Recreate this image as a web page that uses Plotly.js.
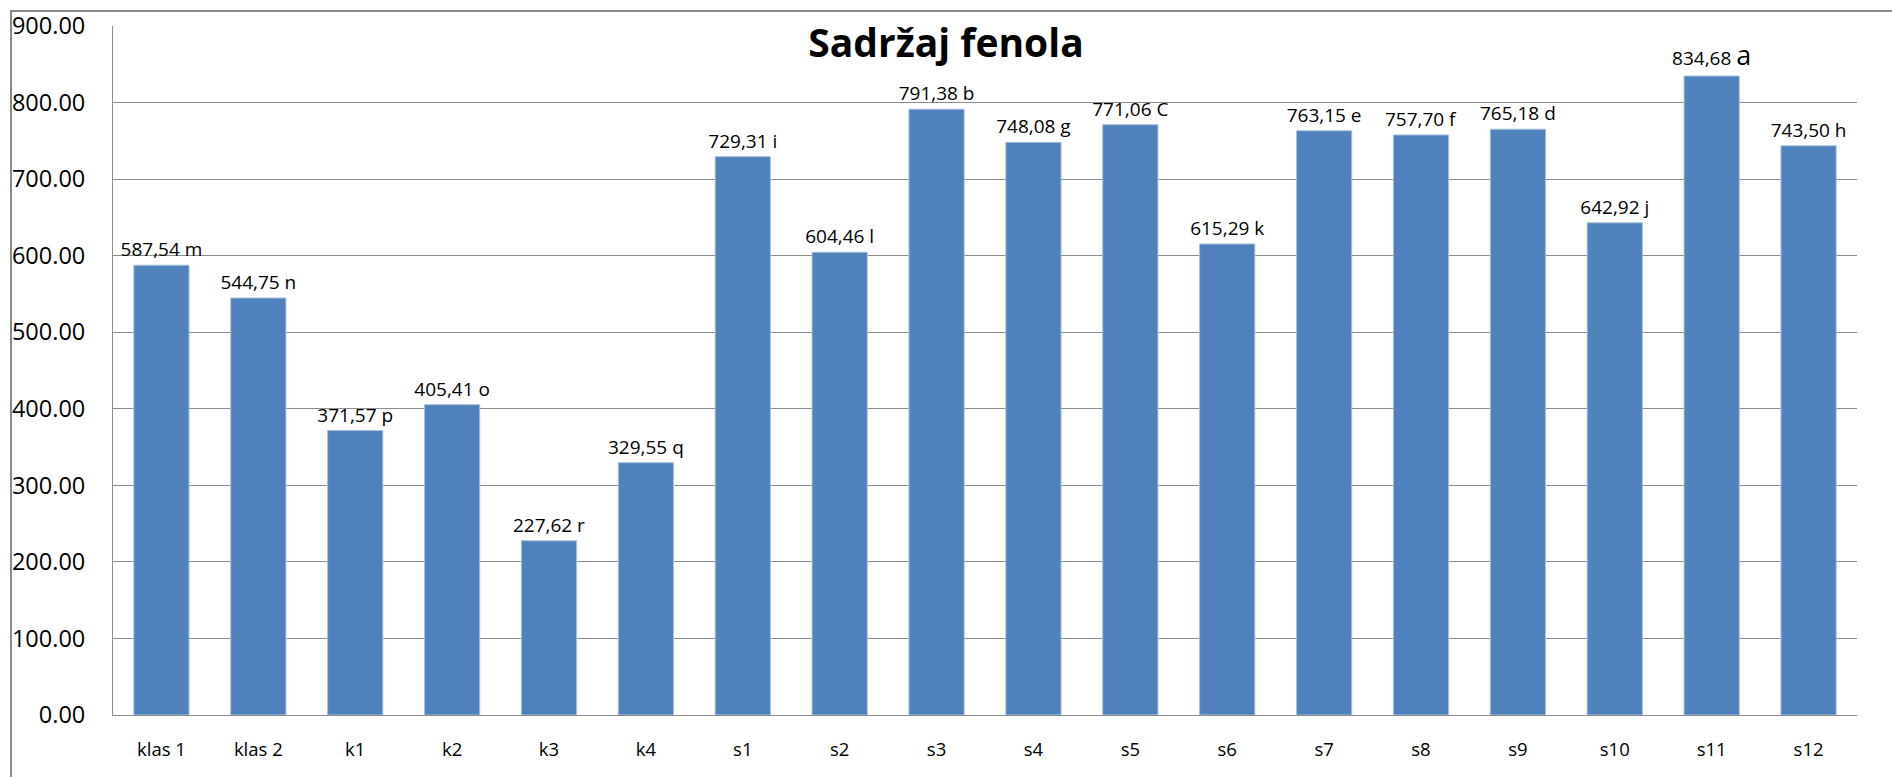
<!DOCTYPE html>
<html>
<head>
<meta charset="utf-8">
<script src="https://cdn.plot.ly/plotly-3.0.1.min.js"></script>
<style>
  html, body { margin: 0; padding: 0; background: #ffffff; overflow: hidden; }
  #chart { width: 1892px; height: 777px; position: absolute; left: 0; top: 0; }
  #frame { position: absolute; left: 10px; top: 10px; width: 2000px; height: 1000px;
           border-left: 2px solid #8a8a8a; border-top: 2px solid #8a8a8a; pointer-events: none; }
</style>
</head>
<body>
<div id="chart"></div>
<div id="frame"></div>
<script>
// Data
const categories = ["klas 1", "klas 2", "k1", "k2", "k3", "k4", "s1", "s2", "s3", "s4", "s5", "s6", "s7", "s8", "s9", "s10", "s11", "s12"];
const values = [587.54, 544.75, 371.57, 405.41, 227.62, 329.55, 729.31, 604.46, 791.38, 748.08, 771.06, 615.29, 763.15, 757.70, 765.18, 642.92, 834.68, 743.50];
const letters = ["m", "n", "p", "o", "r", "q", "i", "l", "b", "g", "C", "k", "e", "f", "d", "j", "a", "h"];
const yTicks = [0, 100, 200, 300, 400, 500, 600, 700, 800, 900];
const chartTitle = "Sadržaj fenola";

const FONT = 'Open Sans, Noto Sans, Liberation Sans, sans-serif';

const labels = values.map((v, i) => {
  const num = v.toFixed(2).replace('.', ',');
  const letter = letters[i] === 'a'
    ? "<span style='font-size:27px'>" + letters[i] + "</span>"
    : letters[i];
  return num + ' ' + letter;
});

const trace = {
  type: 'bar',
  x: categories,
  y: values,
  text: labels,
  textposition: 'outside',
  constraintext: 'none',
  cliponaxis: false,
  textfont: { family: FONT, size: 19, color: '#000000' },
  marker: { color: '#4F81BD', line: { color: '#a9c1de', width: 1 } },
  width: 0.57,
  hoverinfo: 'x+y'
};

const layout = {
  width: 1892,
  height: 777,
  margin: { l: 113, r: 35, t: 26, b: 62 },
  paper_bgcolor: 'rgba(0,0,0,0)',
  plot_bgcolor: '#ffffff',
  showlegend: false,
  title: {
    text: '<b>' + chartTitle + '</b>',
    font: { family: FONT, size: 39, color: '#000000' },
    xref: 'container', x: 0.5, xanchor: 'center',
    yref: 'container', y: 0.944, yanchor: 'middle'
  },
  xaxis: {
    type: 'category',
    showgrid: false,
    showline: true,
    linecolor: '#8e8e8e',
    linewidth: 1,
    ticks: '',
    ticklabelstandoff: 18,
    tickfont: { family: FONT, size: 18.5, color: '#000000' },
    zeroline: false
  },
  yaxis: {
    range: [0, 900],
    tickvals: yTicks,
    tickformat: '.2f',
    showgrid: true,
    gridcolor: '#8e8e8e',
    gridwidth: 1,
    showline: true,
    linecolor: '#8e8e8e',
    linewidth: 1,
    ticks: '',
    ticklabelstandoff: 22,
    tickfont: { family: FONT, size: 23.5, color: '#000000' },
    zeroline: false
  },
  bargap: 0.43
};

Plotly.newPlot('chart', [trace], layout, { displayModeBar: false, staticPlot: true });
</script>
</body>
</html>
